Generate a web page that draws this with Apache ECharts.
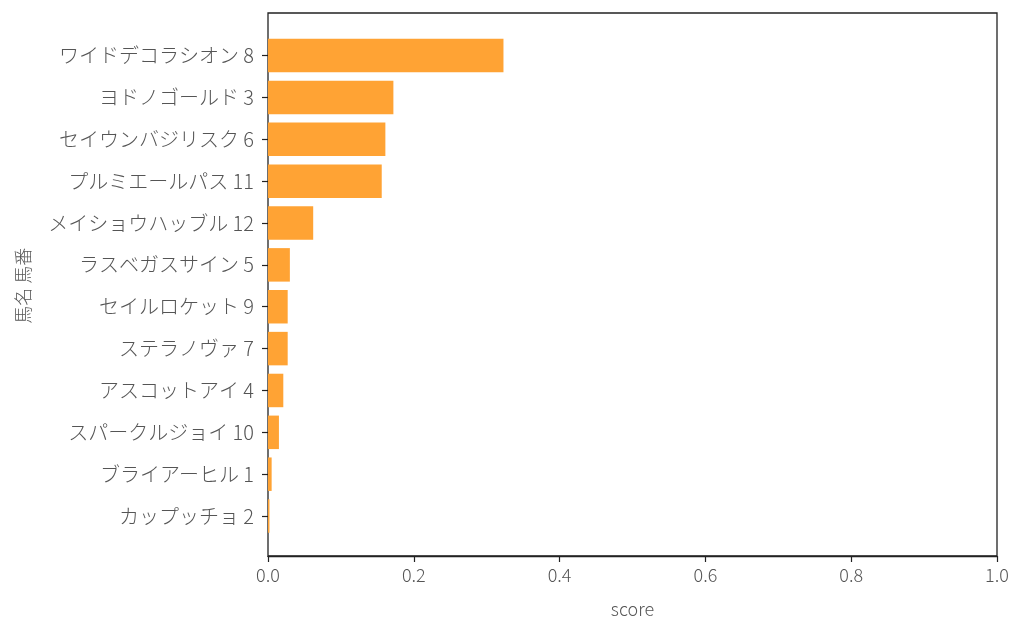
<!DOCTYPE html>
<html><head><meta charset="utf-8">
<script src="https://cdn.jsdelivr.net/npm/echarts@6/dist/echarts.min.js"></script>
<style>html,body{margin:0;padding:0;background:#fff}#c{width:1024px;height:638px}</style>
</head><body><div id="c"></div>
<script>
const categories = ['ワイドデコラシオン 8','ヨドノゴールド 3','セイウンバジリスク 6','プルミエールパス 11','メイショウハッブル 12','ラスベガスサイン 5','セイルロケット 9','ステラノヴァ 7','アスコットアイ 4','スパークルジョイ 10','ブライアーヒル 1','カップッチョ 2'];
const scores = [0.323,0.172,0.161,0.156,0.062,0.030,0.027,0.027,0.021,0.015,0.005,0.002];
const xTicks = [0,0.2,0.4,0.6,0.8,1.0];

const font = '"Noto Sans CJK JP","Noto Sans",sans-serif';
const labelColor = '#555';
const chart = echarts.init(document.getElementById('c'));
chart.setOption({
  animation:false,
  grid:[
    {left:268,right:27,top:13,bottom:82,show:true,borderColor:'#222',borderWidth:1.3,backgroundColor:'transparent'},
    {left:268,right:27,top:34.6,bottom:101}
  ],
  xAxis:[
    {gridIndex:0,type:'value',min:xTicks[0],max:xTicks[xTicks.length-1],interval:0.2,
     name:'score',nameLocation:'middle',nameGap:44,
     nameTextStyle:{fontFamily:font,fontSize:18,color:labelColor,fontWeight:300},
     axisLine:{show:true,lineStyle:{color:'#222',width:1.3}},
     axisTick:{show:true,length:6,lineStyle:{color:'#222',width:1.2}},
     axisLabel:{fontFamily:font,fontSize:18,color:labelColor,fontWeight:300,margin:10,formatter:v=>v.toFixed(1)},
     splitLine:{show:false}},
    {gridIndex:1,type:'value',min:0,max:1,show:false,splitLine:{show:false}}
  ],
  yAxis:[
    {gridIndex:0,type:'value',show:false,splitLine:{show:false}},
    {gridIndex:1,type:'category',data:categories,inverse:true,
     name:'馬名 馬番',nameLocation:'middle',nameGap:236,nameRotate:90,
     nameTextStyle:{fontFamily:font,fontSize:18,color:labelColor,fontWeight:300},
     axisLine:{show:false},
     axisTick:{show:true,alignWithLabel:true,length:6,lineStyle:{color:'#222',width:1.2}},
     axisLabel:{fontFamily:font,fontSize:20,color:labelColor,fontWeight:300,margin:14}}
  ],
  series:[{type:'bar',xAxisIndex:1,yAxisIndex:1,data:scores,barCategoryGap:'20%',
    itemStyle:{color:'#ffa334'}}]
});
</script></body></html>
